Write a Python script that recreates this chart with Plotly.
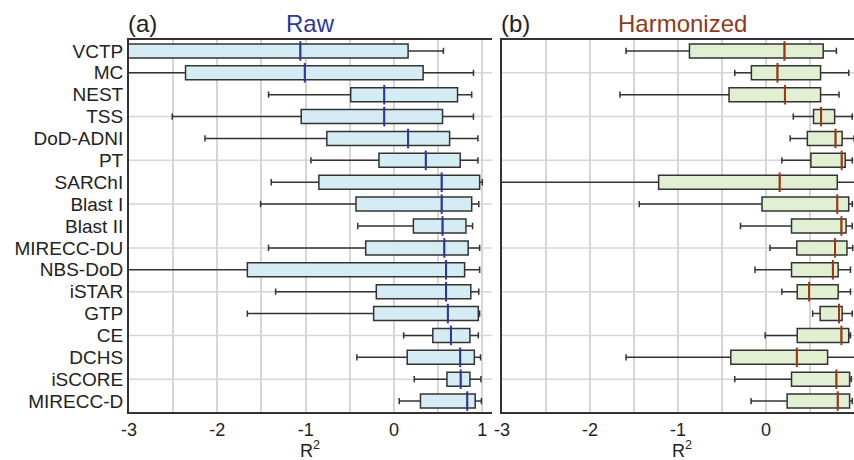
import plotly.graph_objects as go

categories = ["VCTP", "MC", "NEST", "TSS", "DoD-ADNI", "PT", "SARChI", "Blast I", "Blast II",
              "MIRECC-DU", "NBS-DoD", "iSTAR", "GTP", "CE", "DCHS", "iSCORE", "MIRECC-D"]

# Raw R^2 distribution summaries
raw_low = [-4.5, -4.0, -1.42, -2.51, -2.14, -0.94, -1.39, -1.51, -0.41,
           -1.42, -3.8, -1.34, -1.66, 0.11, -0.42, 0.23, 0.06]
raw_q1 = [-3.3, -2.36, -0.49, -1.05, -0.76, -0.17, -0.85, -0.43, 0.22,
          -0.32, -1.66, -0.20, -0.23, 0.44, 0.15, 0.60, 0.30]
raw_med = [-1.06, -1.01, -0.11, -0.11, 0.16, 0.36, 0.54, 0.54, 0.55,
           0.57, 0.59, 0.59, 0.61, 0.645, 0.75, 0.755, 0.83]
raw_q3 = [0.16, 0.33, 0.72, 0.55, 0.63, 0.75, 0.97, 0.88, 0.815,
          0.84, 0.80, 0.87, 0.955, 0.86, 0.91, 0.86, 0.92]
raw_high = [0.56, 0.90, 0.88, 0.90, 0.95, 0.95, 1.0, 0.96, 0.89,
            0.97, 0.97, 0.96, 0.97, 0.955, 0.98, 0.985, 0.99]

# Harmonized R^2 distribution summaries
har_low = [-1.59, -0.355, -1.66, 0.31, 0.275, 0.18, -4.0, -1.44, -0.29,
           0.045, -0.125, 0.18, 0.53, -0.01, -1.59, -0.355, -0.17]
har_q1 = [-0.87, -0.166, -0.42, 0.54, 0.47, 0.51, -1.22, -0.045, 0.29,
          0.35, 0.29, 0.355, 0.615, 0.355, -0.40, 0.29, 0.24]
har_med = [0.21, 0.13, 0.215, 0.626, 0.79, 0.86, 0.155, 0.81, 0.857,
           0.785, 0.76, 0.49, 0.83, 0.857, 0.35, 0.80, 0.815]
har_q3 = [0.65, 0.62, 0.62, 0.78, 0.865, 0.90, 0.81, 0.94, 0.91,
          0.92, 0.82, 0.82, 0.865, 0.94, 0.70, 0.95, 0.95]
har_high = [0.80, 0.94, 0.83, 0.98, 1.0, 0.98, 1.05, 0.98, 0.98,
            0.985, 0.96, 0.96, 0.98, 0.96, 1.05, 0.97, 0.98]

x_ticks = [-3, -2, -1, 0, 1]

FONT = "Liberation Sans, Arial, Helvetica, sans-serif"
TXT = "#222222"
FRAME = "#333333"
GRID = "#d6d6d6"

fig = go.Figure()

panels = [
    ("x", "y", raw_low, raw_q1, raw_med, raw_q3, raw_high, "#d5ecf5", "#2b36a0"),
    ("x2", "y2", har_low, har_q1, har_med, har_q3, har_high, "#e1efd3", "#a0380e"),
]
for xa, ya, lo, q1, med, q3, hi, fill, medc in panels:
    fig.add_trace(go.Box(
        y=categories, q1=q1, median=med, q3=q3, lowerfence=lo, upperfence=hi,
        orientation="h", xaxis=xa, yaxis=ya, fillcolor=fill,
        line=dict(color=FRAME, width=1.5), whiskerwidth=0.45, width=0.64,
        boxpoints=False, hoverinfo="skip", showlegend=False,
    ))
    fig.add_trace(go.Scatter(
        x=med, y=categories, mode="markers", xaxis=xa, yaxis=ya,
        marker=dict(symbol="line-ns", size=14, line=dict(color=medc, width=2)),
        hoverinfo="skip", showlegend=False,
    ))

ydom = [48 / 460, 420 / 460]
yrange = [-0.5, len(categories) - 0.5]
xaxis_common = dict(
    tickvals=x_ticks, ticktext=[str(v) for v in x_ticks],
    showgrid=True, gridcolor=GRID, gridwidth=1.5,
    minor=dict(dtick=0.5, showgrid=True, gridcolor=GRID, gridwidth=1.5),
    showline=True, linecolor=FRAME, linewidth=2, mirror=True,
    ticks="", zeroline=False, automargin=False,
    tickfont=dict(size=18, color=TXT, family=FONT), ticklabelstandoff=0,
)
fig.update_layout(
    width=854, height=460,
    margin=dict(l=0, r=0, t=0, b=0, autoexpand=False),
    paper_bgcolor="white", plot_bgcolor="white",
    font=dict(family=FONT, color=TXT),
    xaxis=dict(domain=[129 / 854, 492 / 854], range=[-3, 1.11], anchor="y", **xaxis_common),
    xaxis2=dict(domain=[502 / 854, 1.0], range=[-3, 1.0], anchor="y2", **xaxis_common),
    yaxis=dict(domain=ydom, type="category", categoryorder="array",
               categoryarray=categories[::-1], range=yrange,
               tickmode="array", tickvals=categories,
               ticktext=categories, showgrid=False, showline=True,
               linecolor=FRAME, linewidth=2, mirror=False, ticks="", anchor="x",
               automargin=False,
               tickfont=dict(size=19, color=TXT, family=FONT), ticklabelstandoff=0),
    yaxis2=dict(domain=ydom, type="category", categoryorder="array",
                categoryarray=categories[::-1], range=yrange,
                showgrid=False, showline=True,
                linecolor=FRAME, linewidth=2, mirror=False, ticks="", anchor="x2",
                automargin=False, showticklabels=False),
)

shapes = []
for xr, yr in [("x domain", "y"), ("x2 domain", "y2")]:
    for c in categories[1::2]:
        shapes.append(dict(type="line", xref=xr, yref=yr, x0=0, x1=1, y0=c, y1=c,
                           line=dict(color=GRID, width=1.5), layer="below"))
fig.update_layout(shapes=shapes)

ann = [
    dict(text="(a)", x=142 / 854, y=1 - 23 / 460, font=dict(size=24, color=TXT)),
    dict(text="Raw", x=310 / 854, y=1 - 23 / 460, font=dict(size=24, color="#2e3a98")),
    dict(text="(b)", x=515 / 854, y=1 - 23 / 460, font=dict(size=24, color=TXT)),
    dict(text="Harmonized", x=682 / 854, y=1 - 23 / 460, font=dict(size=24, color="#8e3b1c")),
    dict(text="R<sup>2</sup>", x=310 / 854, y=1 - 449 / 460, font=dict(size=18, color=TXT)),
    dict(text="R<sup>2</sup>", x=682 / 854, y=1 - 449 / 460, font=dict(size=18, color=TXT)),
]
for a in ann:
    fig.add_annotation(xref="paper", yref="paper", showarrow=False,
                       xanchor="center", yanchor="middle", **a)

fig.write_html("out.html", config={"displayModeBar": False},
               post_script="document.body.style.margin='0';")
